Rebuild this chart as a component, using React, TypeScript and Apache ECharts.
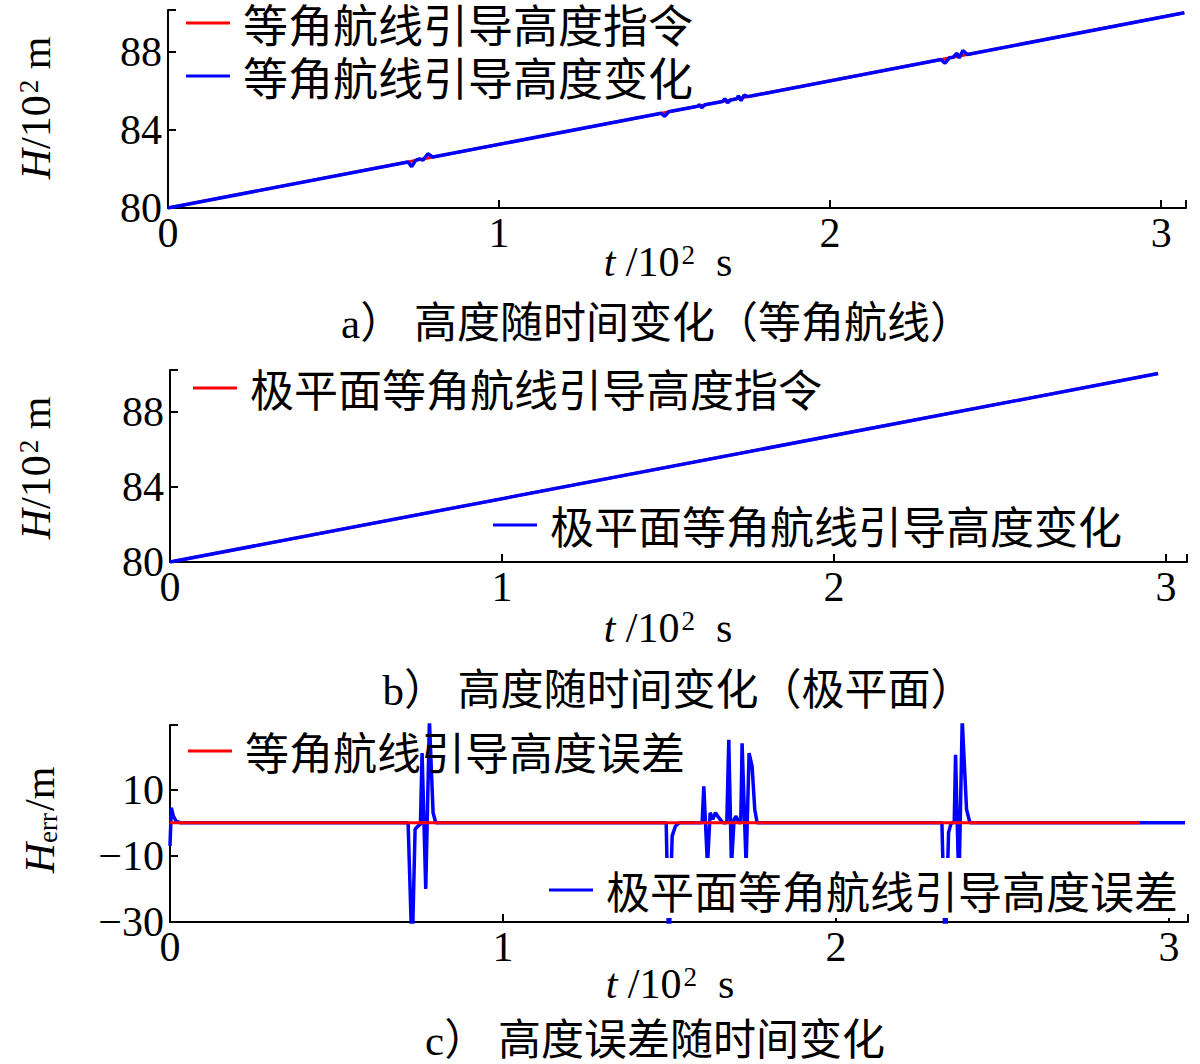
import React, { useEffect, useRef } from 'react';
import * as echarts from 'echarts';

const SERIF = "'Liberation Serif', 'Times New Roman', 'Noto Sans CJK SC', serif";
const CJK = "'Noto Sans CJK SC', 'Liberation Serif', sans-serif";

// ---------- Panel a: rhumb-line guidance altitude (10^2 m) ----------
const aCmdT = [0, 3.07];
const aCmdH = [80, 90.01];
const aActT = [0, 0.725, 0.736, 0.748, 0.76, 0.77, 0.785, 0.8, 1.49, 1.5, 1.512, 1.6, 1.606, 1.612, 1.622,
  1.675, 1.682, 1.69, 1.7, 1.718, 1.723, 1.731, 1.74, 1.752, 1.765,
  2.335, 2.347, 2.36, 2.372, 2.383, 2.39, 2.401, 2.415, 3.07];
const aActH = [80, 82.36, 82.12, 82.44, 82.52, 82.45, 82.78, 82.61, 84.86, 84.7, 84.93, 85.22, 85.3, 85.14, 85.29,
  85.46, 85.6, 85.4, 85.54, 85.6, 85.75, 85.5, 85.78, 85.71, 85.75,
  87.61, 87.42, 87.7, 87.73, 87.93, 87.69, 88.07, 87.87, 90.01];

// ---------- Panel b: polar-plane guidance altitude (10^2 m) ----------
const bCmdT = [0, 2.976];
const bCmdH = [80, 90.05];
const bActT = [0, 2.976];
const bActH = [80, 90.05];

// ---------- Panel c: altitude error (m) ----------
const cRhumbT = [0, 2.913];
const cRhumbE = [0, 0];
const cPolarT = [0, 0.004, 0.01, 0.018, 0.03,
  0.715, 0.727, 0.736, 0.745, 0.752,
  0.757, 0.768, 0.779, 0.79, 0.798,
  1.49, 1.498, 1.508, 1.518, 1.53,
  1.598, 1.603, 1.614, 1.622, 1.63, 1.638, 1.648, 1.66,
  1.672, 1.678, 1.686, 1.694, 1.7, 1.708,
  1.714, 1.718, 1.73, 1.739, 1.748, 1.756, 1.763,
  2.318, 2.328, 2.338, 2.346,
  2.355, 2.359, 2.369, 2.379, 2.392, 2.402,
  3.048];
const cPolarE = [-7, 4.5, 2, 0.5, 0,
  0, -40, -2, -1, -0.5,
  21, -20, 31, 3, 0,
  0, -40, -4, -1, 0,
  0, 11, -13, 3, 1, 3, 1.5, 0,
  0, 25, -13, 1, 2, 0,
  0, 24, -13, 21, 17, 4, 0,
  0, -40, -3, 0,
  0, 20.5, -20, 31, 4, 0,
  0];

// ---------- tick labels ----------
const xTickLabels = [0, 1, 2, 3];
const abYTickLabels = [80, 84, 88];
const cYTickLabels = [-30, -10, 10];

const names = {
  aCmd: '等角航线引导高度指令',
  aAct: '等角航线引导高度变化',
  bCmd: '极平面等角航线引导高度指令',
  bAct: '极平面等角航线引导高度变化',
  cRhumb: '等角航线引导高度误差',
  cPolar: '极平面等角航线引导高度误差',
};
const captions = ['a） 高度随时间变化（等角航线）', 'b） 高度随时间变化（极平面）', 'c） 高度误差随时间变化'];

const zip = (t: number[], v: number[]) => t.map((x, i) => [x, v[i]]);

const RED = '#ff0000';
const BLUE = '#0000ff';

function xAxis(gridIndex: number, max: number) {
  return {
    type: 'value', gridIndex, min: 0, max,
    axisLine: { show: true, onZero: false, lineStyle: { color: '#000', width: 2 } },
    axisTick: { show: true, inside: true, length: 8, lineStyle: { color: '#000', width: 2 }, customValues: [...xTickLabels, max] },
    axisLabel: { show: true, color: '#000', fontSize: 42, fontFamily: SERIF, margin: 4, customValues: xTickLabels },
    splitLine: { show: false },
  };
}

function yAxis(gridIndex: number, min: number, max: number, labels: number[]) {
  return {
    type: 'value', gridIndex, min, max,
    axisLine: { show: true, onZero: false, lineStyle: { color: '#000', width: 2 } },
    axisTick: { show: true, inside: true, length: 8, lineStyle: { color: '#000', width: 2 }, customValues: [...labels, max] },
    axisLabel: {
      show: true, color: '#000', fontSize: 42, fontFamily: SERIF, margin: 6, customValues: labels,
      formatter: (v: number) => String(v).replace('-', '\u2212'),
    },
    splitLine: { show: false },
  };
}

function legend(data: string[], left: number, top: number, extra: any = {}, fs = 44, lh = 46, gap = 7) {
  return {
    data, left, top, orient: 'vertical', selectedMode: false, padding: 0,
    icon: 'rect', itemWidth: 44, itemHeight: 3, itemGap: gap,
    textStyle: { fontSize: fs, fontFamily: CJK, color: '#000', lineHeight: lh, padding: [0, 0, 0, 8] },
    ...extra,
  };
}

const richBase = {
  i: { fontFamily: SERIF, fontStyle: 'italic', fontSize: 42, fill: '#000' },
  n: { fontFamily: SERIF, fontSize: 42, fill: '#000' },
  s: { fontFamily: SERIF, fontSize: 27, fill: '#000', verticalAlign: 'top', padding: [0, 0, 0, 2] },
  b: { fontFamily: SERIF, fontSize: 27, fill: '#000', verticalAlign: 'bottom', padding: [0, 2, 0, 0] },
};

function txt(x: number, y: number, text: string, rotate = false, rich = true) {
  return {
    type: 'text', x, y, rotation: rotate ? Math.PI / 2 : 0, z: 100,
    style: rich
      ? { text, rich: richBase, align: 'center', verticalAlign: 'middle', fill: '#000' }
      : { text, fontSize: 43, fontFamily: SERIF, fill: '#000', align: 'center', verticalAlign: 'middle' },
  };
}

export default function App() {
  const ref = useRef<HTMLDivElement>(null);
  useEffect(() => {
    if (!ref.current) return;
    const chart = echarts.init(ref.current, null, { renderer: 'svg' });
    const line = (name: string, data: number[][], color: string, idx: number, z = 2, width = 3) => ({
      name, type: 'line', data, xAxisIndex: idx, yAxisIndex: idx, symbol: 'none', showSymbol: false,
      z, lineStyle: { color, width }, itemStyle: { color }, clip: true,
    });
    chart.setOption({
      animation: false,
      backgroundColor: '#fff',
      grid: [
        { left: 168, top: 10, width: 1018, height: 198 },
        { left: 170, top: 370, width: 1017, height: 192 },
        { left: 170, top: 725, width: 1018, height: 197 },
      ],
      xAxis: [xAxis(0, 3.075), xAxis(1, 3.063), xAxis(2, 3.057)],
      yAxis: [yAxis(0, 80, 90.15, abYTickLabels), yAxis(1, 80, 90.24, abYTickLabels), yAxis(2, -30, 29.5, cYTickLabels)],
      legend: [
        legend([names.aCmd, names.aAct], 186, 0, {}, 45, 46, 7),
        legend([names.bCmd], 193, 365),
        legend([names.bAct], 493, 502),
        legend([names.cRhumb], 188, 728),
        legend([names.cPolar], 547, 858, { backgroundColor: '#fff', padding: [9, 2, 5, 2] }),
      ],
      series: [
        line(names.aCmd, zip(aCmdT, aCmdH), RED, 0, 2),
        line(names.aAct, zip(aActT, aActH), BLUE, 0, 3, 3.5),
        line(names.bCmd, zip(bCmdT, bCmdH), RED, 1, 2),
        line(names.bAct, zip(bActT, bActH), BLUE, 1, 3, 3.5),
        line(names.cPolar, zip(cPolarT, cPolarE), BLUE, 2, 2, 3.5),
        line(names.cRhumb, zip(cRhumbT, cRhumbE), RED, 2, 3, 3),
      ],
      graphic: [
        txt(36, 108, '{i|H}{n|/10}{s|2}{n| m}', true),
        txt(36, 468, '{i|H}{n|/10}{s|2}{n| m}', true),
        txt(40, 820, '{i|H}{b|err}{n|/m}', true),
        txt(668, 262, '{i|t}{n| /10}{s|2}{n|  s}'),
        txt(668, 628, '{i|t}{n| /10}{s|2}{n|  s}'),
        txt(670, 984, '{i|t}{n| /10}{s|2}{n|  s}'),
        txt(657, 323, captions[0], false, false),
        txt(678, 690, captions[1], false, false),
        txt(655, 1040, captions[2], false, false),
      ],
    });
    return () => chart.dispose();
  }, []);
  return <div ref={ref} style={{ position: 'absolute', left: 0, top: 0, width: 1200, height: 1064 }} />;
}
